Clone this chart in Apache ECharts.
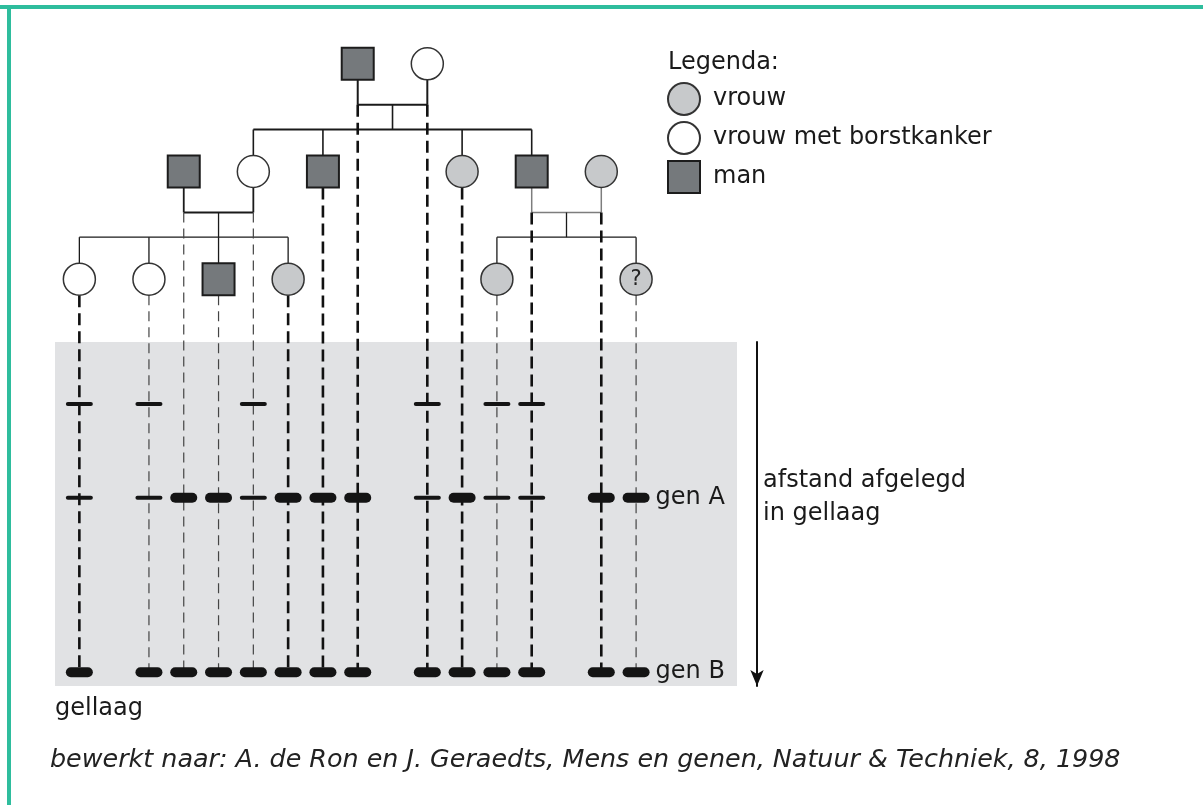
<!DOCTYPE html>
<html>
<head>
<meta charset="utf-8">
<title>Stamboom en gellaag</title>
<script src="https://cdn.jsdelivr.net/npm/echarts@6/dist/echarts.min.js"></script>
<style>
  html, body { margin: 0; padding: 0; background: #fff; }
  #chart { width: 1203px; height: 805px; }
</style>
</head>
<body>
<div id="chart"></div>
<script>
// personen in de volgorde van de lanen in de gellaag (links naar rechts)
const laneSlot = [0, 2, 3, 4, 5, 6, 7, 8, 10, 11, 12, 13, 15, 16];
const laneGen  = [3, 3, 2, 3, 2, 3, 2, 1, 1, 2, 3, 2, 2, 3];
const laneKind = ['ziek', 'ziek', 'man', 'man', 'ziek', 'vrouw', 'man', 'man',
                  'ziek', 'vrouw', 'vrouw', 'man', 'vrouw', 'vrouw'];
const laneMark = ['', '', '', '', '', '', '', '', '', '', '', '', '', '?'];

// ouderparen en hun kinderen (indexen in de lanen hierboven)
const couples    = [[7, 8], [2, 4], [11, 12]];
const childrenOf = [[4, 6, 9, 11], [0, 1, 3, 5], [10, 13]];

// banden: afgelegde afstand (% van de gellaag) en sterkte per laan (0 geen, 1 dun, 2 dik)
const bandNames = ['', 'gen A', 'gen B'];
const bandDist  = [18, 45.3, 96];
const bandRows  = [
  [1, 1, 0, 0, 1, 0, 0, 0, 1, 0, 1, 1, 0, 0],
  [1, 1, 2, 2, 1, 2, 2, 2, 1, 2, 1, 1, 2, 2],
  [2, 2, 2, 2, 2, 2, 2, 2, 2, 2, 2, 2, 2, 2]
];

const legendNames = ['vrouw', 'vrouw met borstkanker', 'man'];

// ---- opmaak ----
const FONT = 'DejaVu Sans';
const INK = '#1a1a1a';
const HALF = 16;          // halve symboolgrootte
const COUPLE_DROP = 41;   // ouderlijn onder midden symbool
const SIB_RISE = 42;      // broer/zuslijn boven midden symbool
const boldLanes = [0, 5, 6, 7, 8, 9, 11, 12];
const familyStyle = [
  { color: '#1a1a1a', w: 2, sib: 2, kid: 1.6 },
  { color: '#1a1a1a', w: 1.8, sib: 1.3, kid: 1.3 },
  { color: '#7d7d7d', w: 1.5, sib: 1.3, kid: 1.3 }
];

const chart = echarts.init(document.getElementById('chart'));

function personData(kind) {
  const out = [];
  laneSlot.forEach((s, i) => {
    if (laneKind[i] !== kind) return;
    const item = { value: [s, laneGen[i]] };
    if (laneMark[i]) {
      item.label = { show: true, formatter: laneMark[i], position: 'inside',
        fontSize: 21, color: '#222', fontFamily: FONT };
    }
    out.push(item);
  });
  return out;
}

function renderFamily(params, api) {
  const f = params.dataIndex;
  const st = familyStyle[f];
  const [a, b] = couples[f];
  const pa = api.coord([laneSlot[a], laneGen[a]]);
  const pb = api.coord([laneSlot[b], laneGen[b]]);
  const kids = childrenOf[f].map(k => api.coord([laneSlot[k], laneGen[k]]));
  const coupleY = pa[1] + COUPLE_DROP;
  const sibY = kids[0][1] - SIB_RISE;
  const midX = (pa[0] + pb[0]) / 2;
  const xs = kids.map(p => p[0]);
  const seg = (x1, y1, x2, y2, w, c) => ({
    type: 'line', shape: { x1, y1, x2, y2 },
    style: { stroke: c || st.color, lineWidth: w }
  });
  const children = [
    seg(pa[0], pa[1] + HALF, pa[0], coupleY, st.w),
    seg(pb[0], pb[1] + HALF, pb[0], coupleY, st.w),
    seg(pa[0], coupleY, pb[0], coupleY, st.w),
    seg(midX, coupleY, midX, sibY, st.kid, INK),
    seg(Math.min.apply(null, xs), sibY, Math.max.apply(null, xs), sibY, st.sib, INK)
  ];
  kids.forEach(p => children.push(seg(p[0], sibY, p[0], p[1] - HALF, st.kid, INK)));
  return { type: 'group', children };
}

const bandData = [];
bandRows.forEach((row, r) => {
  row.forEach((v, i) => {
    if (v > 0) bandData.push([laneSlot[i], bandDist[r], v, r, i]);
  });
});

function renderBand(params, api) {
  const p = api.coord([api.value(0), api.value(1)]);
  const strong = api.value(2) === 2;
  const h = strong ? 10 : 4;
  const w = 27;
  const r = api.value(3), lane = api.value(4);
  const children = [{
    type: 'rect',
    shape: { x: p[0] - w / 2, y: p[1] - h / 2, width: w, height: h, r: h / 2 },
    style: { fill: '#141414' }
  }];
  if (lane === laneSlot.length - 1 && bandNames[r]) {
    children.push({
      type: 'text',
      style: { text: bandNames[r], x: p[0] + w / 2 + 6, y: p[1], verticalAlign: 'middle',
        fontSize: 24, fontFamily: FONT, fill: INK }
    });
  }
  return { type: 'group', children };
}

function renderDash(params, api) {
  const top = api.coord([api.value(0), api.value(1)]);
  const bot = api.coord([api.value(0), api.value(2)]);
  const bold = boldLanes.indexOf(api.value(3)) >= 0;
  return {
    type: 'line',
    shape: { x1: top[0], y1: top[1], x2: bot[0], y2: bot[1] },
    style: { stroke: bold ? '#111' : '#444', lineWidth: bold ? 2.6 : 1.2,
      lineDash: bold ? [12, 6] : [10, 6] }
  };
}

const symbolStyle = {
  'vrouw': { symbol: 'circle', fill: '#c7c9cb', border: '#333', bw: 1.5 },
  'vrouw met borstkanker': { symbol: 'circle', fill: '#ffffff', border: '#333', bw: 1.5 },
  'man': { symbol: 'rect', fill: '#75797c', border: '#1c1c1c', bw: 2 }
};
const kindOf = { 'vrouw': 'vrouw', 'vrouw met borstkanker': 'ziek', 'man': 'man' };

const personSeries = legendNames.map(name => ({
  name,
  type: 'scatter',
  xAxisIndex: 0, yAxisIndex: 0,
  symbol: symbolStyle[name].symbol,
  symbolSize: 32,
  itemStyle: { color: symbolStyle[name].fill, borderColor: symbolStyle[name].border,
    borderWidth: symbolStyle[name].bw, opacity: 1 },
  emphasis: { disabled: true },
  z: 5,
  data: personData(kindOf[name])
}));

const textBase = { fontSize: 24, fontWeight: 'normal', color: INK, fontFamily: FONT };

const option = {
  animation: false,
  backgroundColor: '#ffffff',
  title: [
    { text: 'Legenda:', left: 668, top: 51, padding: 0, textStyle: textBase },
    { text: 'gellaag', left: 55, top: 697, padding: 0, textStyle: textBase },
    { text: 'bewerkt naar: A. de Ron en J. Geraedts, Mens en genen, Natuur & Techniek, 8, 1998',
      left: 50, top: 748, padding: 0,
      textStyle: Object.assign({}, textBase, { fontSize: 25.4, fontStyle: 'italic', color: '#222' }) }
  ],
  legend: {
    data: legendNames,
    orient: 'vertical',
    left: 667, top: 82, padding: 0,
    itemWidth: 32, itemHeight: 32, itemGap: 5,
    selectedMode: false,
    textStyle: { fontSize: 24, color: INK, fontFamily: FONT, padding: [0, 0, 0, 8] }
  },
  graphic: [
    { type: 'rect', shape: { x: 0, y: 5, width: 1203, height: 4 }, style: { fill: '#2ebd9d' } },
    { type: 'rect', shape: { x: 7, y: 5, width: 4, height: 800 }, style: { fill: '#2ebd9d' } }
  ],
  grid: [
    { left: 55, right: 466, top: 10, bottom: 472, show: false },
    { left: 55, right: 466, top: 342, bottom: 119, show: true,
      backgroundColor: '#e1e2e4', borderWidth: 0 }
  ],
  xAxis: [
    { gridIndex: 0, type: 'value', min: -0.7, max: 18.9, show: false },
    { gridIndex: 1, type: 'value', min: -0.7, max: 18.9, show: false }
  ],
  yAxis: [
    { gridIndex: 0, type: 'value', inverse: true, min: 0.5, max: 3.5, show: false },
    { gridIndex: 1, type: 'value', inverse: true, min: 0, max: 100,
      position: 'right', offset: 20,
      axisLine: { show: true, onZero: false, symbol: ['arrow', 'none'], symbolSize: [10, 16],
        lineStyle: { color: '#111', width: 2 } },
      axisTick: { show: false }, axisLabel: { show: false }, splitLine: { show: false },
      name: 'afstand afgelegd\nin gellaag\n ', nameLocation: 'middle', nameRotate: 0, nameGap: 6,
      nameTextStyle: { fontSize: 24, color: INK, fontFamily: FONT, lineHeight: 33 } }
  ],
  series: [
    {
      type: 'custom', name: 'stamboom', xAxisIndex: 0, yAxisIndex: 0, clip: false, z: 2,
      data: couples.map(c => [laneSlot[c[0]], laneGen[c[0]]]),
      renderItem: renderFamily, silent: true
    },
    {
      type: 'custom', name: 'banden', xAxisIndex: 1, yAxisIndex: 1, clip: false, z: 4,
      data: bandData, renderItem: renderBand, silent: true
    }
  ].concat(personSeries)
};

chart.setOption(option);

// stippellijnen van persoon naar laan: begin omgerekend naar de as van de gellaag
const dashData = laneSlot.map((s, i) => {
  const isParent = couples.some(c => c.indexOf(i) >= 0);
  const c = chart.convertToPixel({ gridIndex: 0 }, [s, laneGen[i]]);
  const startPx = c[1] + (isParent ? COUPLE_DROP : HALF);
  const startDist = chart.convertFromPixel({ gridIndex: 1 }, [c[0], startPx])[1];
  return [s, startDist, bandDist[2], i];
});

chart.setOption({
  series: option.series.concat([{
    type: 'custom', name: 'lanen', xAxisIndex: 1, yAxisIndex: 1, clip: false, z: 3,
    data: dashData, renderItem: renderDash, silent: true
  }])
});
</script>
</body>
</html>
